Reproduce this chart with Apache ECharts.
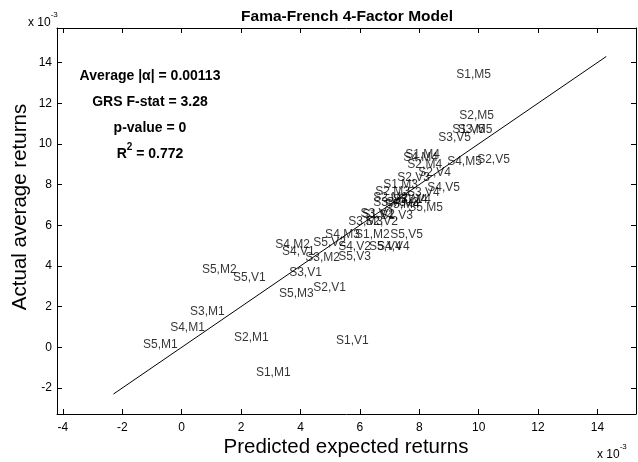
<!DOCTYPE html>
<html>
<head>
<meta charset="utf-8">
<script src="https://cdn.jsdelivr.net/npm/echarts@6/dist/echarts.min.js"></script>
<style>
html,body{margin:0;padding:0;background:#fff;}
#chart{width:638px;height:462px;}
</style>
</head>
<body>
<div id="chart"></div>
<script>
// Portfolio labels and their (predicted, actual) returns, in units of 1e-3
const labels = [
  'S1,M1','S2,M1','S3,M1','S4,M1','S5,M1',
  'S1,M2','S2,M2','S3,M2','S4,M2','S5,M2',
  'S1,M3','S2,M3','S3,M3','S4,M3','S5,M3',
  'S1,M4','S2,M4','S3,M4','S4,M4','S5,M4',
  'S1,M5','S2,M5','S3,M5','S4,M5','S5,M5',
  'S1,V1','S2,V1','S3,V1','S4,V1','S5,V1',
  'S1,V2','S2,V2','S3,V2','S4,V2','S5,V2',
  'S1,V3','S2,V3','S3,V3','S4,V3','S5,V3',
  'S1,V4','S2,V4','S3,V4','S4,V4','S5,V4',
  'S1,V5','S2,V5','S3,V5','S4,V5','S5,V5'
];
const predicted = [
  2.50, 1.76, 0.28, -0.39, -1.30,
  5.84, 6.45, 4.16, 3.15, 0.68,
  6.79, 6.52, 5.61, 4.83, 3.28,
  7.53, 7.60, 7.12, 7.46, 6.85,
  9.25, 9.35, 9.30, 8.94, 7.63,
  5.20, 4.43, 3.62, 3.38, 1.73,
  6.08, 6.18, 6.02, 5.27, 4.43,
  6.69, 7.26, 6.45, 6.89, 5.27,
  7.29, 7.97, 7.59, 6.58, 6.31,
  9.11, 9.95, 8.64, 8.27, 7.02
];
const actual = [
  -1.27, 0.45, 1.73, 0.95, 0.11,
  5.53, 7.35, 4.39, 5.03, 3.80,
  7.99, 7.65, 6.17, 5.53, 2.62,
  9.47, 8.98, 7.25, 9.32, 7.00,
  13.41, 11.39, 10.70, 9.12, 6.86,
  0.31, 2.92, 3.66, 4.69, 3.41,
  6.51, 6.17, 6.58, 4.94, 5.13,
  6.46, 8.33, 7.10, 7.10, 4.44,
  7.25, 8.58, 7.60, 4.94, 4.94,
  10.70, 9.22, 10.31, 7.84, 5.53
];
const fitLine = [[-2.3, -2.3], [14.3, 14.3]];
const xTicks = [-4, -2, 0, 2, 4, 6, 8, 10, 12, 14];
const yTicks = [-2, 0, 2, 4, 6, 8, 10, 12, 14];
const statLines = ['Average |α| = 0.00113', 'GRS F-stat = 3.28', 'p-value = 0'];
const r2Text = ['R', '2', ' = 0.772'];
const titleText = 'Fama-French 4-Factor Model';
const xName = 'Predicted expected returns';
const yName = 'Actual average returns';

const chart = echarts.init(document.getElementById('chart'), null, {renderer: 'canvas'});
const FONT = 'Liberation Sans, Arial, sans-serif';
const pts = labels.map((n, i) => ({name: n, value: [predicted[i], actual[i]]}));
const XMIN = -4.2, XMAX = 15.3, YMIN = -3.28, YMAX = 15.7;

function axisCommon() {
  return {
    axisLine: {show: true, onZero: false, lineStyle: {color: '#000', width: 1}},
    axisTick: {show: true, inside: true, length: 5, lineStyle: {color: '#000'}},
    splitLine: {show: false}
  };
}
const xBase = {type: 'value', min: XMIN, max: XMAX, ...axisCommon()};
const yBase = {type: 'value', min: YMIN, max: YMAX, ...axisCommon()};
const expRich = {a: {fontFamily: FONT, fontSize: 12, verticalAlign: 'bottom', padding: [6,0,0,0]}, s: {fontFamily: FONT, fontSize: 8, verticalAlign: 'top'}};

chart.setOption({
  animation: false,
  backgroundColor: '#fff',
  grid: {left: 57, right: 2, top: 28, bottom: 48, containLabel: false},
  xAxis: [
    {...xBase, position: 'bottom',
      axisTick: {...xBase.axisTick, customValues: xTicks},
      axisLabel: {customValues: xTicks, color: '#000', fontFamily: FONT, fontSize: 12, margin: 8}},
    {...xBase, position: 'top',
      axisTick: {...xBase.axisTick, customValues: xTicks},
      axisLabel: {show: false}}
  ],
  yAxis: [
    {...yBase, position: 'left',
      axisTick: {...yBase.axisTick, customValues: yTicks},
      axisLabel: {customValues: yTicks, color: '#000', fontFamily: FONT, fontSize: 12, margin: 5}},
    {...yBase, position: 'right',
      axisTick: {...yBase.axisTick, customValues: yTicks},
      axisLabel: {show: false}}
  ],
  series: [
    {
      type: 'line', data: fitLine, showSymbol: false, symbol: 'none',
      lineStyle: {color: '#000', width: 1}, silent: true
    },
    {
      type: 'scatter', data: pts, symbolSize: 0,
      label: {show: true, position: 'right', distance: 0, formatter: p => p.name,
        color: '#000', fontFamily: FONT, fontSize: 12, align: 'left', verticalAlign: 'middle'},
      labelLayout: {hideOverlap: false}
    }
  ],
  graphic: [
    {type: 'text', x: 347, y: 17, style: {text: titleText, fontFamily: FONT, fontSize: 15.5, fontWeight: 'bold', fill: '#000', align: 'center', verticalAlign: 'middle'}},
    {type: 'text', x: 346, y: 447, style: {text: xName, fontFamily: FONT, fontSize: 20.5, fill: '#000', align: 'center', verticalAlign: 'middle'}},
    {type: 'text', x: 20, y: 207, rotation: Math.PI / 2, style: {text: yName, fontFamily: FONT, fontSize: 20.5, fill: '#000', align: 'center', verticalAlign: 'middle'}},
    {type: 'text', x: 28, y: 11, style: {text: '{a|x 10}{s|-3}', fill: '#000', rich: expRich}},
    {type: 'text', x: 597, y: 443, style: {text: '{a|x 10}{s|-3}', fill: '#000', rich: expRich}},
    {type: 'text', x: 150, y: 76, style: {text: statLines[0], fontFamily: FONT, fontSize: 14, fontWeight: 'bold', fill: '#000', align: 'center', verticalAlign: 'middle'}},
    {type: 'text', x: 150, y: 102, style: {text: statLines[1], fontFamily: FONT, fontSize: 14, fontWeight: 'bold', fill: '#000', align: 'center', verticalAlign: 'middle'}},
    {type: 'text', x: 150, y: 128, style: {text: statLines[2], fontFamily: FONT, fontSize: 14, fontWeight: 'bold', fill: '#000', align: 'center', verticalAlign: 'middle'}},
    {type: 'text', x: 150, y: 142, style: {text: '{a|' + r2Text[0] + '}{s|' + r2Text[1] + '}{a|' + r2Text[2] + '}', align: 'center', verticalAlign: 'top', fill: '#000',
      rich: {a: {fontFamily: FONT, fontSize: 14, fontWeight: 'bold', verticalAlign: 'bottom', padding: [5,0,0,0]}, s: {fontFamily: FONT, fontSize: 10, fontWeight: 'bold', verticalAlign: 'top'}}}}
  ]
});
</script>
</body>
</html>
